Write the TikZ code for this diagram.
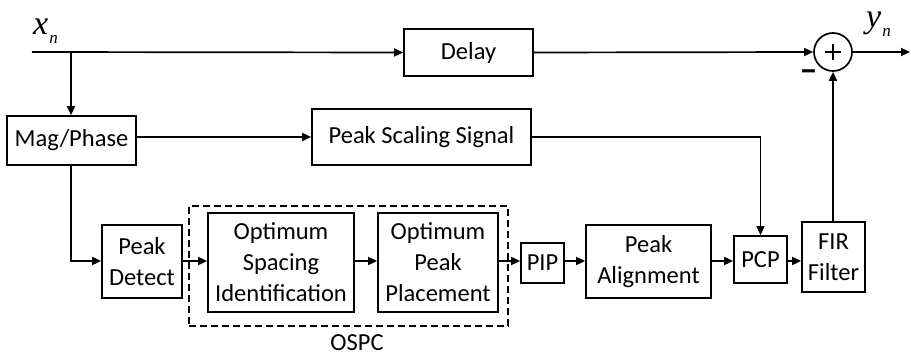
\documentclass[tikz,border=0pt]{standalone}
\usepackage{fontspec}
\setmainfont{Carlito}
\newfontfamily\symfont{Liberation Serif}
\usetikzlibrary{arrows.meta}
\tikzset{
  blk/.style={draw, line width=1.7pt, inner sep=0pt, align=center,
    font=\fontsize{24.5}{31}\selectfont},
  arr/.style={line width=1.7pt, -{Triangle[length=9pt,width=8pt]}},
  grp/.style={draw, line width=1.7pt, dash pattern=on 7pt off 4pt},
  sig/.style={inner sep=0pt, font=\fontsize{34}{34}\symfont\itshape}
}
\newcommand{\sigsub}[2]{#1\kern1pt\raisebox{-9pt}{\fontsize{17}{17}\selectfont #2}}
\begin{document}
\begin{tikzpicture}[x=1pt,y=-1pt]
  \useasboundingbox (0,0) rectangle (911,358);

  % top path: input, delay, summing junction, output
  \node[sig, anchor=base west] (xn) at (33,35) {\sigsub{x}{n}};
  \coordinate (in) at (32,52);
  \coordinate (tap) at (71,52);
  \node[blk, minimum width=129pt, minimum height=47pt] (delay) at (468.5,52.5) {Delay};
  \node[draw, circle, line width=1.7pt, minimum size=38pt, inner sep=0pt] (sum) at (833,52) {};
  \draw[line width=1.4pt] ([xshift=-8pt]sum.center) -- ([xshift=8pt]sum.center)
                          ([yshift=-8pt]sum.center) -- ([yshift=8pt]sum.center);
  \node[sig, anchor=base west] (yn) at (866,28) {\sigsub{y}{n}};
  \coordinate (out) at (910,52);
  \node[font=\fontsize{36}{36}\selectfont\bfseries, inner sep=0pt] (minus) at (808.5,76) {–};

  % middle row
  \node[blk, minimum width=129pt, minimum height=49pt] (mag) at (71.5,140.5) {Mag/Phase};
  \node[blk, minimum width=219pt, minimum height=56pt] (pss) at (421.5,137) {Peak Scaling Signal};

  % bottom row
  \coordinate (row) at (0,261);
  \node[blk, minimum width=80pt, minimum height=73pt] (pd) at (142,261.5) {Peak\\Detect};
  \node[blk, minimum width=146pt, minimum height=99pt] (osi) at (281,262.5) {Optimum\\Spacing\\Identification};
  \node[blk, minimum width=120pt, minimum height=99pt] (opp) at (438,262.5) {Optimum\\Peak\\Placement};
  \node[grp, minimum width=319pt, minimum height=120pt] (ospc) at (348.5,266) {};
  \node[font=\fontsize{24.5}{24.5}\selectfont, inner sep=0pt, anchor=base] (ospclabel) at (357,351) {OSPC};
  \node[blk, minimum width=43pt, minimum height=40pt] (pip) at (542.5,263) {PIP};
  \node[blk, minimum width=125pt, minimum height=73pt] (pa) at (648.5,261.5) {Peak\\Alignment};
  \node[blk, minimum width=53pt, minimum height=47pt] (pcp) at (760.5,259.5) {PCP};
  \node[blk, minimum width=63pt, minimum height=70pt] (fir) at (833.5,257) {FIR\\Filter};

  % connectors
  \draw[arr] (in) -- (delay.west);
  \draw[arr] (delay.east) -- (sum.west);
  \draw[arr] (sum.east) -- (out);
  \draw[arr] (tap) -- (tap |- mag.north);
  \draw[arr] (mag.east |- pss.west) -- (pss.west);
  \draw[arr] (tap |- mag.south) |- (pd.west |- row);
  \draw[arr] (pd.east |- row) -- (osi.west |- row);
  \draw[arr] (osi.east |- row) -- (opp.west |- row);
  \draw[arr] (opp.east |- row) -- (pip.west |- row);
  \draw[arr] (pip.east |- row) -- (pa.west |- row);
  \draw[arr] (pa.east |- row) -- (pcp.west |- row);
  \draw[arr] (pcp.east |- row) -- (fir.west |- row);
  \draw[arr] (pss.east) -| (pcp.north);
  \draw[arr] (fir.north -| sum.south) -- (sum.south);
\end{tikzpicture}
\end{document}
